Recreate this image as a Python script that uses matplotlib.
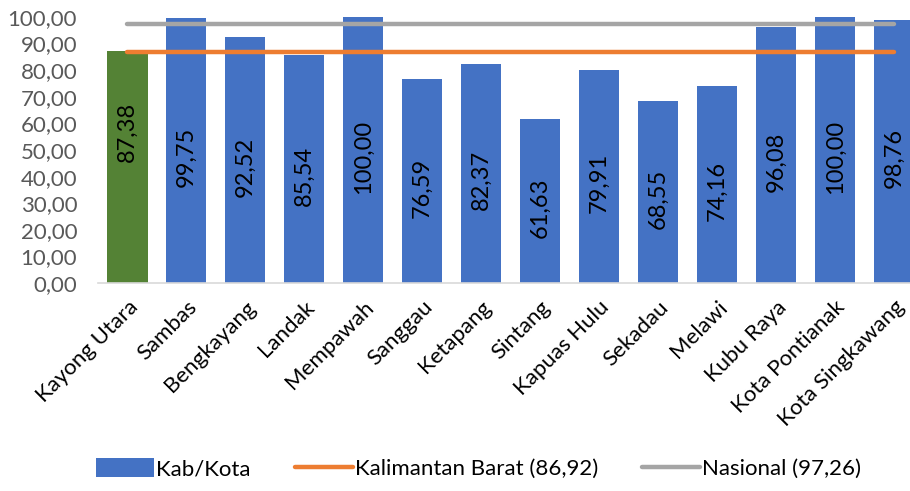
import numpy as np
import matplotlib.pyplot as plt
from matplotlib.patches import Patch
from matplotlib.lines import Line2D

plt.rcParams['font.family'] = ['Lato', 'DejaVu Sans']

daerah = ['Kayong Utara', 'Sambas', 'Bengkayang', 'Landak', 'Mempawah', 'Sanggau',
          'Ketapang', 'Sintang', 'Kapuas Hulu', 'Sekadau', 'Melawi', 'Kubu Raya',
          'Kota Pontianak', 'Kota Singkawang']
nilai = [87.38, 99.75, 92.52, 85.54, 100.00, 76.59, 82.37, 61.63, 79.91, 68.55,
         74.16, 96.08, 100.00, 98.76]
kalbar = 86.92
nasional = 97.26

def fmt(v):
    return ('%.2f' % v).replace('.', ',')

fig = plt.figure(figsize=(9.1, 4.91), dpi=100)
ax = fig.add_axes([0.1077, 0.4236, 0.907, 0.5418])

x = np.arange(len(daerah))
warna = ['#548235'] + ['#4472C4'] * (len(daerah) - 1)
ax.bar(x, nilai, width=0.68, color=warna, zorder=2)
for i, (xi, v) in enumerate(zip(x, nilai)):
    ypos = v * 0.65 if i == 0 else v / 2 - 2.5
    ax.text(xi, ypos, fmt(v), rotation=90, ha='center', va='center',
            fontsize=17, color='black', zorder=3)

ax.plot([x[0], x[-1]], [kalbar, kalbar], color='#ED7D31', lw=3.2,
        solid_capstyle='round', zorder=4)
ax.plot([x[0], x[-1]], [nasional, nasional], color='#A5A5A5', lw=3.2,
        solid_capstyle='round', zorder=4)

ax.set_xlim(-0.5, len(daerah) - 0.5)
ax.set_ylim(0, 100)
ax.set_yticks(np.arange(0, 101, 10))
ax.set_yticklabels([fmt(t) for t in np.arange(0, 101, 10)], fontsize=16, color='#595959')
ax.set_xticks(x)
ax.set_xticklabels(daerah, rotation=45, ha='right', rotation_mode='anchor',
                   fontsize=16, color='black')
ax.tick_params(axis='both', length=0)
ax.tick_params(axis='y', pad=15)
ax.tick_params(axis='x', pad=10)
for s in ['top', 'right', 'left']:
    ax.spines[s].set_visible(False)
ax.spines['bottom'].set_color('#D9D9D9')
ax.spines['bottom'].set_linewidth(1.2)

handles = [Patch(facecolor='#4472C4'),
           Line2D([], [], color='#ED7D31', lw=3.2, solid_capstyle='round'),
           Line2D([], [], color='#A5A5A5', lw=3.2, solid_capstyle='round')]
labels = ['Kab/Kota', 'Kalimantan Barat (' + fmt(kalbar) + ')',
          'Nasional (' + fmt(nasional) + ')']
fig.legend(handles, labels, loc='center', bbox_to_anchor=(0.526, 0.045), ncol=3,
           frameon=False, fontsize=16, handlelength=2.6, handletextpad=0.1,
           columnspacing=2.0, handleheight=0.9)

fig.savefig('out.png', dpi=100)
